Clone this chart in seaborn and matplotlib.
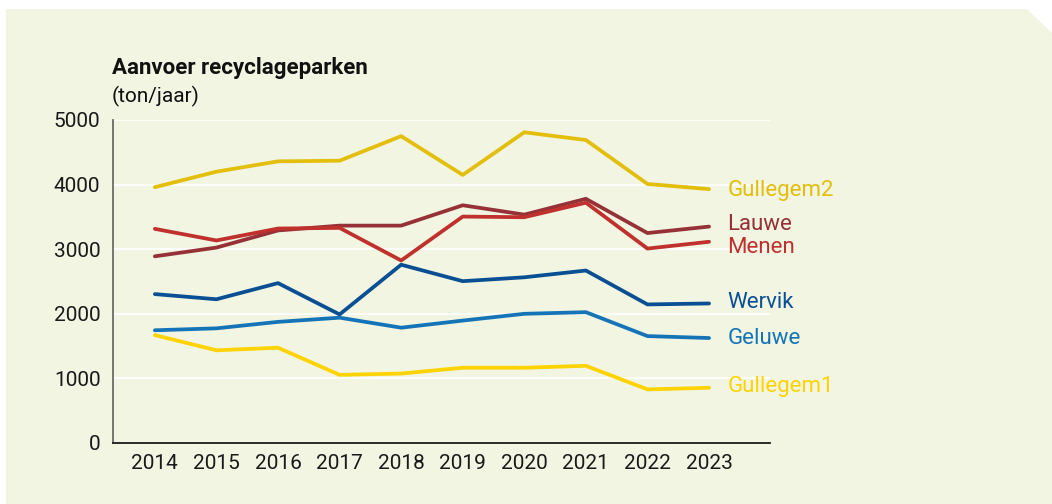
import numpy as np
import pandas as pd
import seaborn as sns
import matplotlib.pyplot as plt
from matplotlib.patches import Polygon

# Data (ton/jaar)
years = [2014, 2015, 2016, 2017, 2018, 2019, 2020, 2021, 2022, 2023]
gullegem2 = [3960, 4200, 4360, 4370, 4750, 4150, 4810, 4690, 4010, 3930]
lauwe = [2890, 3025, 3290, 3365, 3365, 3680, 3535, 3780, 3250, 3350]
menen = [3315, 3135, 3320, 3330, 2825, 3505, 3495, 3720, 3010, 3115]
wervik = [2305, 2225, 2475, 1990, 2760, 2505, 2565, 2670, 2145, 2160]
geluwe = [1745, 1775, 1875, 1940, 1785, 1895, 2000, 2025, 1655, 1625]
gullegem1 = [1670, 1435, 1475, 1055, 1075, 1165, 1165, 1195, 830, 855]

names = ["Gullegem2", "Lauwe", "Menen", "Wervik", "Geluwe", "Gullegem1"]
series = [gullegem2, lauwe, menen, wervik, geluwe, gullegem1]
colors = ["#E3BE0B", "#963137", "#C0302D", "#0A4F93", "#1474B7", "#FED300"]
label_y = [3910, 3380, 3020, 2180, 1620, 870]

df = pd.DataFrame(
    [(n, y, v) for n, s in zip(names, series) for y, v in zip(years, s)],
    columns=["park", "jaar", "ton"],
)

sns.set_style("white")
plt.rcParams["font.family"] = ["Roboto", "DejaVu Sans"]

bg = "#F1F5E2"
fig = plt.figure(figsize=(10.52, 5.04), dpi=100)
fig.patch.set_facecolor("white")

# light green panel with a cut top-right corner
W, H = 1052, 504
pts = [(6, 504), (6, 9), (1027, 9), (1052, 33), (1052, 504)]
fig.add_artist(Polygon([(x / W, 1 - y / H) for x, y in pts], closed=True,
                       transform=fig.transFigure, facecolor=bg,
                       edgecolor="none", zorder=-10))

ax = fig.add_axes([113 / W, 1 - 443 / H, (770 - 113) / W, (443 - 120) / H])
ax.set_facecolor(bg)

sns.lineplot(data=df, x="jaar", y="ton", hue="park", palette=dict(zip(names, colors)),
             linewidth=2.7, legend=False, ax=ax)

ax.set_xlim(2013.32, 2023.99)
ax.set_ylim(0, 5000)
ax.set_yticks([0, 1000, 2000, 3000, 4000, 5000])
ax.set_xticks(years)
ax.grid(axis="y", color="white", linewidth=1.3)
ax.set_axisbelow(True)
ax.tick_params(axis="both", length=0, labelsize=15, colors="#1a1a1a")
ax.tick_params(axis="x", pad=8)
ax.tick_params(axis="y", pad=9)
ax.set_xlabel("")
ax.set_ylabel("")
for s in ["top", "right"]:
    ax.spines[s].set_visible(False)
ax.spines["left"].set_color("#6b6b66")
ax.spines["left"].set_linewidth(1.3)
ax.spines["bottom"].set_color("#1a1a1a")
ax.spines["bottom"].set_linewidth(1.3)

for n, c, ly in zip(names, colors, label_y):
    ax.text(2023.3, ly, n, color=c, fontsize=16, va="center", ha="left",
            clip_on=False)

fig.text(112 / W, 1 - 68 / H, "Aanvoer recyclageparken", fontsize=16,
         fontweight="bold", color="#111111", va="center", ha="left")
fig.text(112 / W, 1 - 96 / H, "(ton/jaar)", fontsize=15, color="#111111",
         va="center", ha="left")

fig.savefig("out.png", dpi=100, facecolor="white")
